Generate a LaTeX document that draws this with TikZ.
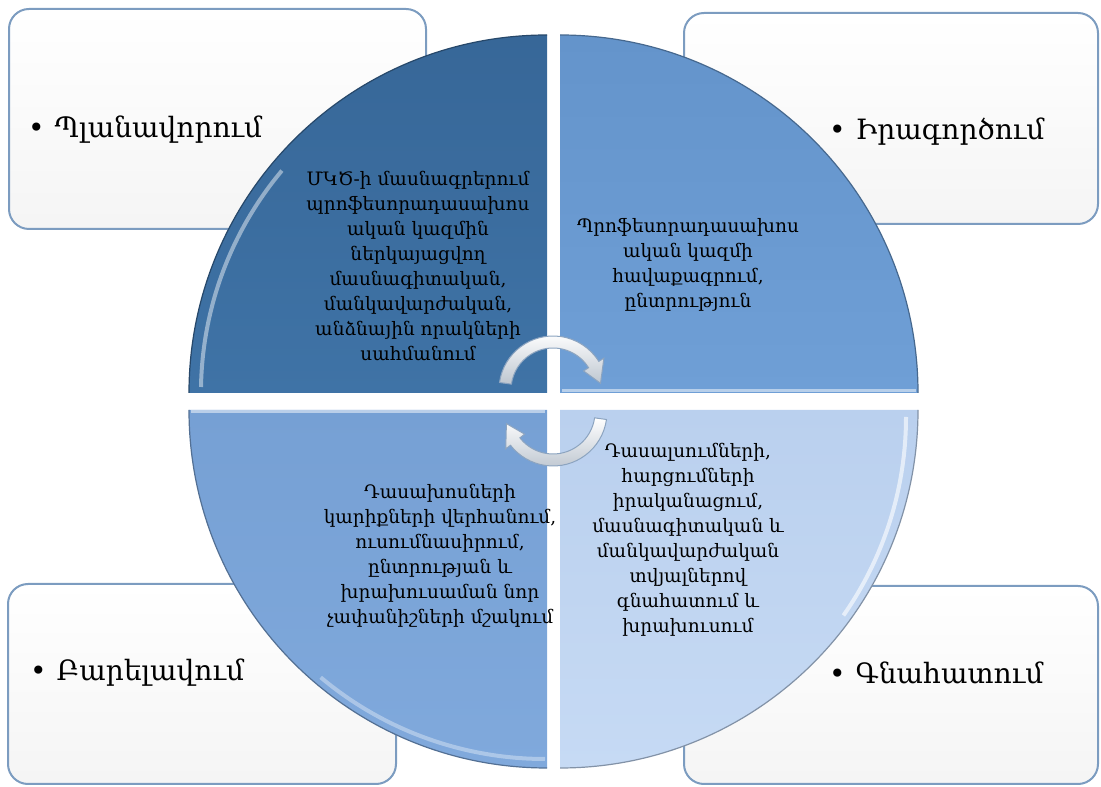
\documentclass[tikz,border=0pt]{standalone}
\usepackage{fontspec}
\setmainfont{DejaVu Serif}
\usetikzlibrary{calc}
\definecolor{qTL}{RGB}{63,115,166}
\definecolor{qTLtop}{RGB}{55,103,152}
\definecolor{qTR}{RGB}{111,159,214}
\definecolor{qTRtop}{RGB}{100,148,203}
\definecolor{qBL}{RGB}{128,169,220}
\definecolor{qBLtop}{RGB}{118,160,212}
\definecolor{qBR}{RGB}{198,218,244}
\definecolor{qBRtop}{RGB}{186,208,238}
\definecolor{boxline}{RGB}{124,156,192}
\definecolor{arrfill}{RGB}{214,225,238}
\definecolor{arrline}{RGB}{140,164,192}
\tikzset{
  cornerbox/.style={draw=boxline, line width=2pt, rounded corners=20pt, top color=white, bottom color=black!4, inner sep=0pt},
  cornerlabel/.style={anchor=west, font=\fontsize{28}{34}\selectfont, inner sep=0pt},
  quadtext/.style={align=center, font=\fontsize{18.5}{25}\selectfont, inner sep=0pt},
  rim/.style={white, opacity=0.35, line width=4pt},
  edge/.style={line width=1.2pt},
  cyclearrow/.style={draw=arrline, line width=1pt, top color=white, bottom color=arrfill!85!black!90}
}
\begin{document}
\begin{tikzpicture}[x=1pt,y=1pt]
\useasboundingbox (0,0) rectangle (1101,787);
% corner boxes
\node[cornerbox, minimum width=417pt, minimum height=220pt, anchor=north west] (boxTL) at (8,779) {};
\node[cornerbox, minimum width=414pt, minimum height=211pt, anchor=north west] (boxTR) at (683,775) {};
\node[cornerbox, minimum width=388pt, minimum height=200pt, anchor=north west] (boxBL) at (7,204) {};
\node[cornerbox, minimum width=414pt, minimum height=198pt, anchor=north west] (boxBR) at (683,202) {};
% labels
\node[cornerlabel] (labTL) at (28,657) {\textbullet\hspace{10pt}Պլանավորում};
\node[cornerlabel] (labTR) at (829,655) {\textbullet\hspace{10pt}Իրագործում};
\node[cornerlabel] (labBL) at (30,114) {\textbullet\hspace{10pt}Բարելավում};
\node[cornerlabel] (labBR) at (829,114) {\textbullet\hspace{10pt}Գնահատում};
% quadrants
\path[top color=qTLtop, bottom color=qTL] (547,394) -- (189,394) arc[start angle=180,end angle=90,radius=358] -- cycle;
\draw[qTLtop!70!black, edge] (189,394) arc[start angle=180,end angle=90,radius=358];
\draw[rim, opacity=0.45] (201,400) arc[start angle=179,end angle=140,radius=346];
\path[top color=qTRtop, bottom color=qTR] (560,394) -- (560,752) arc[start angle=90,end angle=0,radius=358] -- cycle;
\draw[qTRtop!70!black, edge] (560,752) arc[start angle=90,end angle=0,radius=358];
\draw[white, opacity=0.5, line width=3pt] (562,396) -- (916,396);
\path[top color=qBLtop, bottom color=qBL] (547,377) -- (547,19) arc[start angle=270,end angle=180,radius=358] -- cycle;
\draw[qBLtop!70!black, edge] (547,19) arc[start angle=270,end angle=180,radius=358];
\draw[white, opacity=0.5, line width=3pt] (191,375) -- (545,375);
\draw[rim] (545,28) arc[start angle=270,end angle=230,radius=349];
\path[top color=qBRtop, bottom color=qBR] (560,377) -- (918,377) arc[start angle=0,end angle=-90,radius=358] -- cycle;
\draw[qBRtop!70!black, edge] (918,377) arc[start angle=0,end angle=-90,radius=358];
\draw[white, opacity=0.6, line width=4pt] (906,370) arc[start angle=0,end angle=-35,radius=346];
% quadrant texts
\node[quadtext] (tTL) at (418,521) {ՄԿԾ-ի մասնագրերում\\պրոֆեսորադասախոս\\ական կազմին\\ներկայացվող\\մասնագիտական,\\մանկավարժական,\\անձնային որակների\\սահմանում};
\node[quadtext] (tTR) at (688,522) {Պրոֆեսորադասախոս\\ական կազմի\\հավաքագրում,\\ընտրություն};
\node[quadtext] (tBL) at (440,231) {Դասախոսների\\կարիքների վերհանում,\\ուսումնասիրում,\\ընտրության և\\խրախուսաման նոր\\չափանիշների մշակում};
\node[quadtext] (tBR) at (688,247) {Դասալսումների,\\հարցումների\\իրականացում,\\մասնագիտական և\\մանկավարժական\\տվյալներով\\գնահատում և\\խրախուսում};
% cycle arrows
\begin{scope}[shift={(553,397)}]
\path[cyclearrow] (172:54) arc[start angle=172,end angle=32,radius=54] -- (32:60) -- (8:48) -- (32:36) -- (32:42) arc[start angle=32,end angle=172,radius=42] -- cycle;
\end{scope}
\begin{scope}[shift={(553,375)}]
\path[cyclearrow] (-8:54) arc[start angle=-8,end angle=-142,radius=54] -- (-142:60) -- (-166:48) -- (-142:36) -- (-142:42) arc[start angle=-142,end angle=-8,radius=42] -- cycle;
\end{scope}
\end{tikzpicture}
\end{document}
